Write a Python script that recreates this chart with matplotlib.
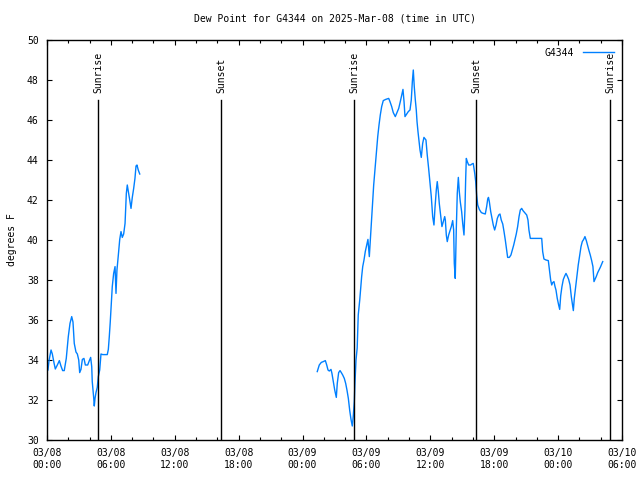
import datetime as dt
import matplotlib
matplotlib.use("Agg")
import matplotlib.pyplot as plt
import matplotlib.dates as mdates

# hours after 2025-03-08 00:00 UTC, dew point in degrees F
hours_1 = [0.09, 0.19, 0.38, 0.50, 0.66, 0.78, 0.97, 1.16, 1.31, 1.47, 1.62, 1.81,
           2.00, 2.16, 2.32, 2.44, 2.56, 2.72, 2.85, 2.98, 3.07, 3.19, 3.32, 3.47,
           3.60, 3.82, 3.94, 4.10, 4.20, 4.25, 4.39, 4.44, 4.51, 4.60, 4.72, 4.82,
           4.95, 5.07, 5.23, 5.45, 5.66, 5.76, 5.85, 5.94, 6.04, 6.13, 6.26, 6.39,
           6.48, 6.57, 6.70, 6.83, 6.95, 7.07, 7.20, 7.33, 7.45, 7.54, 7.64, 7.77,
           7.89, 8.01, 8.14, 8.26, 8.36, 8.45, 8.57, 8.71]
dew_1 = [33.5, 33.97, 34.5, 34.3, 33.85, 33.55, 33.75, 33.97, 33.7, 33.47, 33.47, 34.08,
         35.17, 35.83, 36.17, 35.9, 34.83, 34.4, 34.3, 34.0, 33.37, 33.53, 34.03, 34.08,
         33.75, 33.75, 33.92, 34.13, 33.67, 32.92, 32.08, 31.7, 32.08, 32.37, 32.63, 33.17,
         33.5, 34.3, 34.27, 34.27, 34.27, 34.53, 35.17, 35.9, 36.83, 37.67, 38.33, 38.67,
         37.33, 38.5, 39.25, 40.03, 40.42, 40.13, 40.3, 40.83, 42.33, 42.75, 42.42, 42.0,
         41.58, 42.13, 42.58, 43.08, 43.7, 43.75, 43.5, 43.3]

hours_2 = [25.38, 25.57, 25.76, 25.95, 26.14, 26.27, 26.39, 26.51, 26.67, 26.76, 26.89, 27.02,
           27.17, 27.26, 27.39, 27.52, 27.64, 27.77, 27.92, 28.05, 28.17, 28.30, 28.43, 28.55,
           28.67, 28.76, 28.86, 28.92, 29.02, 29.13, 29.23, 29.37, 29.46, 29.55, 29.65, 29.77,
           29.89, 30.02, 30.14, 30.27, 30.40, 30.49, 30.59, 30.68, 30.77, 30.87, 30.96, 31.06,
           31.18, 31.30, 31.43, 31.58, 31.81, 32.09, 32.21, 32.37, 32.52, 32.71, 32.87, 33.03,
           33.18, 33.31, 33.43, 33.53, 33.62, 33.78, 33.93, 34.09, 34.21, 34.31, 34.40, 34.49,
           34.59, 34.68, 34.75, 34.84, 34.93, 35.03, 35.15, 35.28, 35.40, 35.59, 35.71, 35.84,
           35.97, 36.09, 36.22, 36.34, 36.44, 36.56, 36.65, 36.75, 36.84, 36.97, 37.09, 37.22,
           37.35, 37.41, 37.50, 37.59, 37.72, 37.85, 37.97, 38.10, 38.19, 38.25, 38.34, 38.44,
           38.53, 38.63, 38.72, 38.81, 38.94, 39.04, 39.16, 39.25, 39.32, 39.38, 39.47, 39.60,
           39.79, 39.91, 40.03, 40.17, 40.26, 40.35, 40.45, 40.60, 40.79, 40.97, 41.16, 41.29,
           41.39, 41.46, 41.54, 41.67, 41.79, 41.91, 42.04, 42.17, 42.29, 42.42, 42.54, 42.66,
           42.80, 42.92, 43.04, 43.17, 43.26, 43.42, 43.57, 43.70, 43.83, 43.95, 44.07, 44.20,
           44.33, 44.45, 44.58, 44.70, 44.86, 45.05, 45.17, 45.26, 45.39, 45.92, 46.46, 46.55,
           46.67, 46.86, 47.08, 47.17, 47.30, 47.40, 47.49, 47.61, 47.71, 47.80, 47.92, 48.05,
           48.15, 48.24, 48.36, 48.49, 48.62, 48.74, 48.86, 48.99, 49.12, 49.24, 49.37, 49.43,
           49.52, 49.65, 49.77, 49.89, 50.03, 50.15, 50.27, 50.40, 50.52, 50.65, 50.78, 50.90,
           51.02, 51.15, 51.27, 51.37, 51.46, 51.58, 51.72, 51.84, 51.96, 52.10, 52.19]
dew_2 = [33.42, 33.75, 33.88, 33.92, 33.97, 33.75, 33.5, 33.45, 33.53, 33.33, 32.92, 32.5,
         32.13, 32.83, 33.37, 33.47, 33.37, 33.25, 33.08, 32.83, 32.5, 32.08, 31.47, 31.03,
         30.7, 31.17, 31.92, 32.83, 34.0, 34.6, 36.25, 37.0, 37.58, 38.17, 38.67, 39.0,
         39.42, 39.75, 40.03, 39.17, 40.33, 41.17, 42.0, 42.75, 43.33, 44.0, 44.53, 45.17,
         45.75, 46.25, 46.67, 46.97, 47.03, 47.08, 46.92, 46.67, 46.37, 46.17, 46.37, 46.58,
         46.92, 47.25, 47.53, 46.92, 46.17, 46.3, 46.42, 46.5, 47.0, 47.92, 48.5, 47.67,
         47.0, 46.5, 45.92, 45.42, 45.0, 44.5, 44.13, 44.83, 45.13, 45.0, 44.25, 43.58,
         42.83, 42.17, 41.17, 40.75, 41.63, 42.5, 42.92, 42.42, 41.83, 41.25, 40.67, 40.92,
         41.17, 41.0, 40.25, 39.92, 40.25, 40.47, 40.67, 40.97, 40.5, 38.83, 38.08, 40.58,
         42.33, 43.13, 42.42, 41.92, 41.42, 40.83, 40.25, 41.5, 43.08, 44.08, 43.92, 43.75,
         43.75, 43.8, 43.83, 43.33, 42.92, 42.25, 41.75, 41.53, 41.37, 41.33, 41.3, 41.67,
         42.05, 42.13, 41.92, 41.42, 41.08, 40.75, 40.5, 40.75, 41.08, 41.25, 41.3, 41.0,
         40.8, 40.42, 40.0, 39.5, 39.13, 39.13, 39.25, 39.5, 39.75, 40.03, 40.3, 40.67,
         41.17, 41.5, 41.58, 41.47, 41.37, 41.25, 41.0, 40.5, 40.08, 40.08, 40.08, 39.42,
         39.05, 39.0, 38.97, 38.58, 38.0, 37.75, 37.87, 37.92, 37.67, 37.5, 37.08, 36.75,
         36.53, 37.2, 37.67, 38.03, 38.2, 38.33, 38.2, 38.03, 37.75, 37.17, 36.67, 36.47,
         37.08, 37.67, 38.17, 38.75, 39.25, 39.67, 39.92, 40.03, 40.17, 39.97, 39.7, 39.47,
         39.25, 38.97, 38.67, 37.92, 38.03, 38.17, 38.37, 38.5, 38.63, 38.8, 38.92]

sun_events = ["Sunrise", "Sunset", "Sunrise", "Sunset", "Sunrise"]
sun_hours = [4.8, 16.35, 28.83, 40.3, 52.87]

start = dt.datetime(2025, 3, 8)
def to_time(hs):
    return [start + dt.timedelta(hours=h) for h in hs]

plt.rcParams['font.family'] = ['DejaVu Sans Mono']
plt.rcParams['font.size'] = 7

fig = plt.figure(figsize=(6.4, 4.8), dpi=100)
ax = fig.add_axes([47/640, 40/480, 575/640, 400/480])

ax.plot(to_time(hours_1), dew_1, color='#0080ff', lw=1, label='G4344')
ax.plot(to_time(hours_2), dew_2, color='#0080ff', lw=1)

for name, h in zip(sun_events, sun_hours):
    t = start + dt.timedelta(hours=h)
    ax.plot([t, t], [30, 47], color='black', lw=1)
    ax.text(t, 47.35, name, rotation=90, ha='center', va='bottom', fontsize=7)

ax.set_xlim(start, start + dt.timedelta(hours=54))
ax.set_ylim(30, 50)
ax.set_yticks(range(30, 51, 2))
ax.xaxis.set_major_locator(mdates.HourLocator(byhour=[0, 6, 12, 18]))
ax.xaxis.set_minor_locator(mdates.HourLocator(interval=2))
ax.xaxis.set_major_formatter(mdates.DateFormatter('%m/%d\n%H:%M'))
ax.tick_params(which='both', direction='in', top=True, right=True, length=3.5, width=0.8, pad=6)
ax.tick_params(which='minor', length=2.5)
for s in ax.spines.values():
    s.set_linewidth(1)

ax.set_title('Dew Point for G4344 on 2025-Mar-08 (time in UTC)', fontsize=7, pad=13)
ax.set_ylabel('degrees F', labelpad=7)
ax.legend(loc='upper right', frameon=False, handlelength=3.2, markerfirst=False,
          borderaxespad=0.4, handletextpad=0.9, fontsize=7)

fig.savefig('out.png', dpi=100)
